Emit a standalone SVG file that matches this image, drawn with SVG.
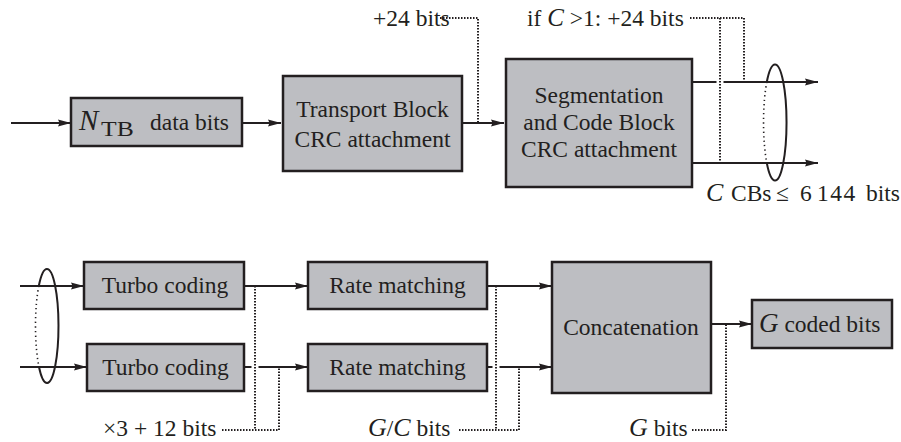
<svg xmlns="http://www.w3.org/2000/svg" width="901" height="442" viewBox="0 0 901 442">
  <defs>
    <marker id="arrow" markerWidth="14" markerHeight="8" refX="13" refY="4" orient="auto" markerUnits="userSpaceOnUse">
      <path d="M0,0.5 L13,4 L0,7.5 L1.5,4 Z" fill="#231f20"/>
    </marker>
    <style>
      .box { fill: #bdbec2; stroke: #231f20; stroke-width: 2.5; }
      .txt { font-family: "Liberation Serif", "Times New Roman", serif; font-size: 23.5px; fill: #231f20; }
      .mid { text-anchor: middle; }
      .it { font-style: italic; }
      .wire { fill: none; stroke: #231f20; stroke-width: 2; }
      .arr { marker-end: url(#arrow); }
      .dot { fill: none; stroke: #231f20; stroke-width: 2; stroke-dasharray: 1.5 1.5; }
      .sparse { fill: none; stroke: #231f20; stroke-width: 1.6; stroke-dasharray: 1.3 3.2; }
    </style>
  </defs>

  <rect width="901" height="442" fill="#ffffff"/>

  <!-- processing blocks -->
  <g id="data-bits">
    <rect class="box" x="71" y="98" width="171" height="48"/>
    <text class="txt it" x="79" y="129.5" style="font-size:29px">N</text>
    <text class="txt" transform="translate(101,136) scale(1.28,1)" style="font-size:20px">TB</text>
    <text class="txt" x="150" y="129.5">data bits</text>
  </g>

  <g id="tb-crc">
    <rect class="box" x="283" y="76" width="179" height="95"/>
    <text class="txt mid" x="372.5" y="117">Transport Block</text>
    <text class="txt mid" x="372.5" y="147">CRC attachment</text>
  </g>

  <g id="segmentation">
    <rect class="box" x="506" y="59" width="186" height="128"/>
    <text class="txt mid" x="599" y="103">Segmentation</text>
    <text class="txt mid" x="599" y="130">and Code Block</text>
    <text class="txt mid" x="599" y="157">CRC attachment</text>
  </g>

  <g id="turbo-1">
    <rect class="box" x="84" y="262" width="160" height="47"/>
    <text class="txt mid" x="165" y="293">Turbo coding</text>
  </g>

  <g id="turbo-2">
    <rect class="box" x="87" y="344" width="157" height="47"/>
    <text class="txt mid" x="165.5" y="374.5">Turbo coding</text>
  </g>

  <g id="rate-1">
    <rect class="box" x="308" y="262" width="179" height="47"/>
    <text class="txt mid" x="397.5" y="293">Rate matching</text>
  </g>

  <g id="rate-2">
    <rect class="box" x="308" y="344" width="179" height="47"/>
    <text class="txt mid" x="397.5" y="374.5">Rate matching</text>
  </g>

  <g id="concatenation">
    <rect class="box" x="552" y="262" width="159" height="131"/>
    <text class="txt mid" x="631" y="335">Concatenation</text>
  </g>

  <g id="coded-bits">
    <rect class="box" x="752" y="300" width="140" height="48"/>
    <text class="txt" x="759" y="331.5"><tspan class="it" font-size="27">G</tspan> coded bits</text>
  </g>

  <!-- signal flow -->
  <g id="connectors">
    <line class="wire arr" x1="11" y1="123" x2="71" y2="123"/>
    <line class="wire arr" x1="242" y1="123" x2="281" y2="123"/>
    <line class="wire arr" x1="462" y1="123" x2="504" y2="123"/>

    <!-- code block outputs -->
    <line class="wire" x1="692" y1="82" x2="716.5" y2="82"/>
    <line class="wire arr" x1="723.5" y1="82" x2="818" y2="82"/>
    <line class="wire arr" x1="692" y1="163" x2="818" y2="163"/>
    <path class="wire" d="M766.8,82 A11.5,58 0 1 1 766.8,163"/>
    <path class="sparse" d="M766.8,82 A11.5,58 0 0 0 766.8,163"/>

    <!-- code block inputs -->
    <line class="wire arr" x1="20" y1="286" x2="84" y2="286"/>
    <line class="wire arr" x1="20" y1="367" x2="87" y2="367"/>
    <path class="wire" d="M38.8,286 A11.5,57 0 1 1 39,367"/>
    <path class="sparse" d="M38.8,286 A11.5,57 0 0 0 39,367"/>

    <line class="wire arr" x1="244" y1="286" x2="308" y2="286"/>
    <line class="wire" x1="244" y1="367" x2="251.5" y2="367"/>
    <line class="wire arr" x1="258.5" y1="367" x2="308" y2="367"/>

    <line class="wire arr" x1="487" y1="286" x2="552" y2="286"/>
    <line class="wire" x1="487" y1="367" x2="492.5" y2="367"/>
    <line class="wire arr" x1="499.5" y1="367" x2="552" y2="367"/>

    <line class="wire arr" x1="711" y1="324" x2="752" y2="324"/>

    <!-- dotted size annotations -->
    <polyline class="dot" points="440,18 478,18 478,123"/>
    <polyline class="dot" points="690,18 744,18 744,82"/>
    <line class="dot" x1="720" y1="18" x2="720" y2="163"/>

    <polyline class="dot" points="222,430 279,430 279,367"/>
    <line class="dot" x1="255" y1="286" x2="255" y2="430"/>

    <polyline class="dot" points="459,430 519,430 519,367"/>
    <line class="dot" x1="496" y1="286" x2="496" y2="430"/>

    <polyline class="dot" points="692,430 726,430 726,324"/>
  </g>

  <!-- annotation labels -->
  <g id="labels">
    <text class="txt" x="373" y="26">+24 bits</text>
    <text class="txt" x="527" y="26">if <tspan class="it" font-size="25">C</tspan> &gt;1: +24 bits</text>
    <text class="txt" y="201"><tspan class="it" x="706" font-size="26">C</tspan><tspan x="731">CBs</tspan><tspan x="776">≤</tspan><tspan x="800">6</tspan><tspan x="817" letter-spacing="1.5">144</tspan><tspan x="866">bits</tspan></text>
    <text class="txt" x="103" y="436">×3 + 12 bits</text>
    <text class="txt" x="368" y="436"><tspan class="it" font-size="26">G</tspan>/<tspan class="it" font-size="26">C</tspan> bits</text>
    <text class="txt" x="629" y="436"><tspan class="it" font-size="26">G</tspan> bits</text>
  </g>
</svg>
